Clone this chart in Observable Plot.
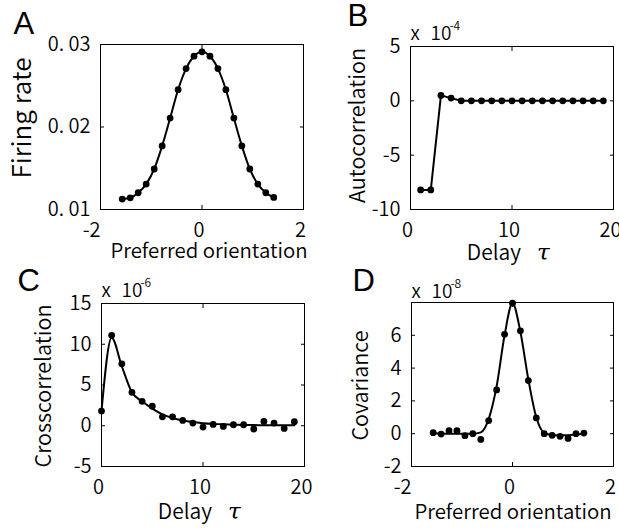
<!DOCTYPE html>
<html><head><meta charset="utf-8">
<script src="https://cdn.jsdelivr.net/npm/d3@7"></script>
<script src="https://cdn.jsdelivr.net/npm/@observablehq/plot@0.6"></script>
<style>
body{margin:0;background:#fff;}
#fig{position:relative;width:619px;height:528px;overflow:hidden;background:#fff;}
#fig > svg{position:absolute;overflow:visible;}
</style></head><body><div id="fig"></div>
<script>
// ---------- data ----------
const orientation = [-1.571,-1.414,-1.257,-1.100,-0.942,-0.785,-0.628,-0.471,-0.314,-0.157,0,0.157,0.314,0.471,0.628,0.785,0.942,1.100,1.257,1.414];
const firingRate = [0.01126,0.01142,0.01203,0.01308,0.01491,0.01771,0.02108,0.02452,0.02708,0.02858,0.02911,0.02858,0.02708,0.02452,0.02108,0.01771,0.01491,0.01308,0.01203,0.01146];

const delayB = [1,2,3,4,5,6,7,8,9,10,11,12,13,14,15,16,17,18,19];
const autocorr = [-8.2,-8.2,0.5,0.25,0,0,0,0,0,0,0,0,0,0,0,0,0,0,0]; // x 1e-4

const delayC = [0,1,2,3,4,5,6,7,8,9,10,11,12,13,14,15,16,17,18,19];
const crosscorr = [1.8,11.1,7.6,4.1,3.0,2.4,1.1,1.1,0.65,0.33,-0.16,0.16,-0.08,0.12,0.12,-0.4,0.53,0.33,-0.33,0.5]; // x 1e-6
const crosscorrFit = [1.8,10.8,7.3,4.1,3.0,2.1,1.4,0.95,0.65,0.45,0.32,0.23,0.17,0.13,0.1,0.08,0.07,0.06,0.05,0.05];

const covariance = [0.06,-0.02,0.18,0.18,-0.12,0,-0.35,0.8,2.67,6.06,7.96,6.27,3.24,0.96,0,-0.1,-0.16,-0.29,0,0.04]; // x 1e-8
const covarianceFit = [0.02,0.0,0.0,0.0,0.0,0.0,0.08,0.9,2.9,6.0,7.96,6.2,3.3,1.0,0.05,-0.08,-0.1,-0.1,-0.05,0.0];

const ticksA = {x:[-2,0,2], y:[0.01,0.02,0.03], yLabels:["0. 01","0. 02","0. 03"]};
const ticksB = {x:[0,10,20], y:[-10,-5,0,5]};
const ticksC = {x:[0,10,20], y:[-5,0,5,10,15]};
const ticksD = {x:[-2,0,2], y:[-2,0,2,4,6,8], yLabels:["-2","0","2","4","6",""]};

// ---------- helpers ----------
const FONT = "'Noto Sans CJK JP','Noto Sans',sans-serif";
const TICK = 20;
const W = 350;
const zip = (xs, ys) => xs.map((x, i) => ({x, y: ys[i]}));

function boxAxes(t) {
  const yFmt = t.yLabels ? d => t.yLabels[t.y.indexOf(d)] : d => String(d);
  return [
    Plot.frame({stroke: "#000", strokeWidth: 1}),
    Plot.axisX(t.x, {anchor: "bottom", tickSize: -4, tickFormat: () => "", label: null}),
    Plot.axisX(t.x, {anchor: "top", tickSize: -4, tickFormat: () => "", label: null}),
    Plot.axisY(t.y, {anchor: "left", tickSize: -4, tickPadding: 14, fontSize: TICK, fontWeight: W, label: null, tickFormat: yFmt}),
    Plot.axisY(t.y, {anchor: "right", tickSize: -4, tickFormat: () => "", label: null}),
    // x tick labels: negative labels end at the tick, others centred
    Plot.text(t.x.filter(d => d < 0), {x: d => d, frameAnchor: "bottom", textAnchor: "end", lineAnchor: "top", dy: 13.5, dx: 0, text: d => String(d), fontSize: TICK, fontWeight: W, fill: "#000"}),
    Plot.text(t.x.filter(d => d >= 0), {x: d => d, frameAnchor: "bottom", textAnchor: "middle", lineAnchor: "top", dy: 13.5, dx: -3, text: d => String(d), fontSize: TICK, fontWeight: W, fill: "#000"})
  ];
}
function letter(s, dx, dy) {
  return Plot.text([s], {frameAnchor: "top-left", textAnchor: "start", lineAnchor: "top", dx, dy, fontSize: 31, fontFamily: "'Liberation Sans',sans-serif", fill: "#000"});
}
function ylabel(s, size, dx, dy) {
  return Plot.text([s], {frameAnchor: "left", rotate: -90, textAnchor: "middle", lineAnchor: "middle", dx, dy, fontSize: size, fontWeight: W, fill: "#000"});
}
function xlabel(s, dx, dy) {
  return Plot.text([s], {frameAnchor: "bottom", textAnchor: "middle", lineAnchor: "bottom", dx, dy, fontSize: 20.4, fontWeight: W, fill: "#000"});
}
function delayLabel(dy) {
  return [
    Plot.text(["Delay"], {frameAnchor: "bottom", textAnchor: "end", lineAnchor: "bottom", dx: 9, dy, fontSize: 21, fontWeight: W, fill: "#000"}),
    Plot.text(["τ"], {frameAnchor: "bottom", textAnchor: "start", lineAnchor: "bottom", dx: 25, dy, fontSize: 23, fontStyle: "italic", fontFamily: "'DejaVu Serif','Liberation Serif',serif", fontWeight: 300, fill: "#000"})
  ];
}
function exponent(p, dy) {
  return [
    Plot.text(["x"], {frameAnchor: "top-left", textAnchor: "start", lineAnchor: "bottom", dx: 0, dy, fontSize: 19, fontWeight: W, fill: "#000"}),
    Plot.text(["10"], {frameAnchor: "top-left", textAnchor: "start", lineAnchor: "bottom", dx: 20, dy, fontSize: 19, fontWeight: W, fill: "#000"}),
    Plot.text([p], {frameAnchor: "top-left", textAnchor: "start", lineAnchor: "bottom", dx: 39, dy: dy - 10, fontSize: 12, fontWeight: W, fill: "#000"})
  ];
}
function place(svg, left, top) {
  svg.style.left = left + "px";
  svg.style.top = top + "px";
  document.getElementById("fig").appendChild(svg);
}
const base = {style: {fontFamily: FONT, fontSize: "20px", background: "transparent", color: "#000"}};
const lineStyle = {x: "x", y: "y", stroke: "#000", strokeWidth: 2};
const dotStyle = {x: "x", y: "y", r: 3.4, fill: "#000"};

// ---------- Panel A ----------
place(Plot.plot({
  ...base, width: 310, height: 264,
  marginLeft: 100, marginRight: 7, marginTop: 44, marginBottom: 55,
  x: {domain: [-2, 2]}, y: {domain: [0.01, 0.03]},
  marks: [
    ...boxAxes(ticksA),
    Plot.line(zip(orientation, firingRate), {...lineStyle, curve: "monotone-x"}),
    Plot.dot(zip(orientation, firingRate), dotStyle),
    letter("A", -87, -33),
    ylabel("Firing rate", 26, -78, -9),
    xlabel("Preferred orientation", 7, 48)
  ]
}), 0, 0);

// ---------- Panel B ----------
place(Plot.plot({
  ...base, width: 309, height: 264,
  marginLeft: 100, marginRight: 6, marginTop: 46, marginBottom: 55,
  x: {domain: [0, 20]}, y: {domain: [-10, 5]},
  marks: [
    ...boxAxes(ticksB),
    Plot.line(zip(delayB, autocorr), lineStyle),
    Plot.dot(zip(delayB, autocorr), dotStyle),
    letter("B", -63, -43),
    ylabel("Autocorrelation", 21.5, -52.5, -2.5),
    ...delayLabel(50.5),
    ...exponent("-4", -7)
  ]
}), 310, 0);

// ---------- Panel C ----------
place(Plot.plot({
  ...base, width: 310, height: 264,
  marginLeft: 101, marginRight: 6, marginTop: 39, marginBottom: 62,
  x: {domain: [0, 20]}, y: {domain: [-5, 15]},
  marks: [
    ...boxAxes(ticksC),
    Plot.line(zip(delayC, crosscorrFit), {...lineStyle, curve: "monotone-x"}),
    Plot.dot(zip(delayC, crosscorr), dotStyle),
    letter("C", -84, -35),
    ylabel("Crosscorrelation", 21.5, -57, 1),
    ...delayLabel(52.5),
    ...exponent("-6", -7)
  ]
}), 0, 264);

// ---------- Panel D ----------
place(Plot.plot({
  ...base, width: 309, height: 264,
  marginLeft: 101, marginRight: 6, marginTop: 38, marginBottom: 62,
  x: {domain: [-2, 2]}, y: {domain: [-2, 8]},
  marks: [
    ...boxAxes(ticksD),
    Plot.line(zip(orientation, covarianceFit), {...lineStyle, curve: "monotone-x"}),
    Plot.dot(zip(orientation, covariance), dotStyle),
    letter("D", -59, -34),
    ylabel("Covariance", 21.5, -50, 1),
    xlabel("Preferred orientation", 0.5, 52),
    ...exponent("-8", -5)
  ]
}), 310, 264);
</script></body></html>
